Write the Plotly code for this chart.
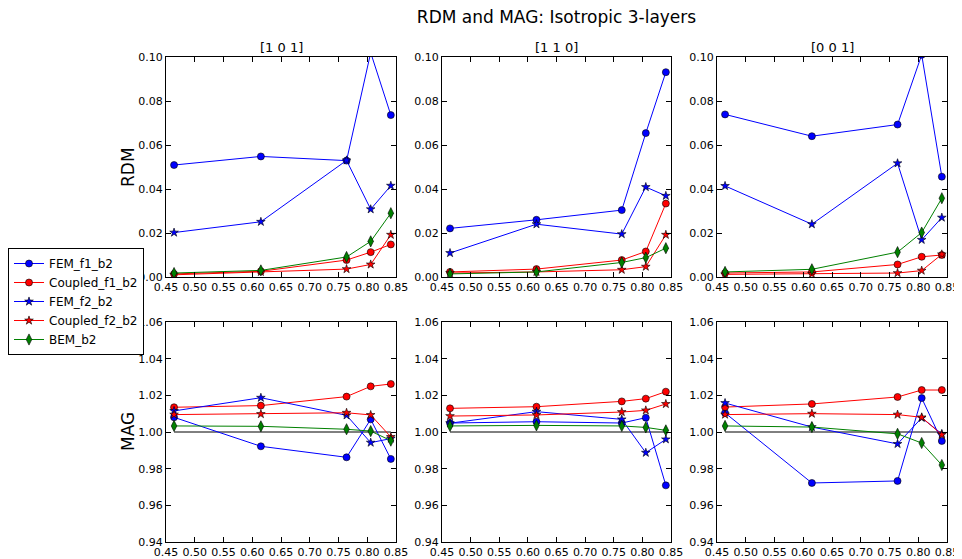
import plotly.graph_objects as go
from plotly.subplots import make_subplots

# ---------------- data ----------------
x_vals = [0.464, 0.615, 0.764, 0.806, 0.841]

panel_titles = ["[1 0 1]", "[1 1 0]", "[0 0 1]"]
series_names = ["FEM_f1_b2", "Coupled_f1_b2", "FEM_f2_b2", "Coupled_f2_b2", "BEM_b2"]

# RDM [1 0 1]
rdm_101_fem_f1 = [0.0509, 0.0548, 0.0529, 0.102, 0.0736]
rdm_101_cpl_f1 = [0.0014, 0.0026, 0.0077, 0.0113, 0.0148]
rdm_101_fem_f2 = [0.0202, 0.0251, 0.0530, 0.0308, 0.0415]
rdm_101_cpl_f2 = [0.0010, 0.0023, 0.0036, 0.0057, 0.0192]
rdm_101_bem = [0.0018, 0.0030, 0.0091, 0.0162, 0.0290]

# RDM [1 1 0]
rdm_110_fem_f1 = [0.0221, 0.0260, 0.0304, 0.0654, 0.0931]
rdm_110_cpl_f1 = [0.0023, 0.0036, 0.0077, 0.0116, 0.0334]
rdm_110_fem_f2 = [0.0109, 0.0240, 0.0195, 0.0409, 0.0369]
rdm_110_cpl_f2 = [0.0018, 0.0023, 0.0033, 0.0047, 0.0192]
rdm_110_bem = [0.0014, 0.0023, 0.0066, 0.0088, 0.0131]

# RDM [0 0 1]
rdm_001_fem_f1 = [0.0739, 0.0640, 0.0693, 0.101, 0.0456]
rdm_001_cpl_f1 = [0.0018, 0.0023, 0.0057, 0.0092, 0.0100]
rdm_001_fem_f2 = [0.0414, 0.0240, 0.0517, 0.0169, 0.0270]
rdm_001_cpl_f2 = [0.0012, 0.0014, 0.0018, 0.0029, 0.0103]
rdm_001_bem = [0.0023, 0.0035, 0.0113, 0.0202, 0.0358]

# MAG [1 0 1]
mag_101_fem_f1 = [1.0080, 0.9922, 0.9862, 1.0069, 0.9853]
mag_101_cpl_f1 = [1.0135, 1.0144, 1.0193, 1.0249, 1.0262]
mag_101_fem_f2 = [1.0115, 1.0187, 1.0091, 0.9942, 0.9964]
mag_101_cpl_f2 = [1.0095, 1.0098, 1.0105, 1.0093, 0.9973]
mag_101_bem = [1.0033, 1.0031, 1.0015, 1.0005, 0.9953]

# MAG [1 1 0]
mag_110_fem_f1 = [1.0049, 1.0056, 1.0049, 1.0078, 0.9709]
mag_110_cpl_f1 = [1.0129, 1.0138, 1.0167, 1.0182, 1.0220]
mag_110_fem_f2 = [1.0048, 1.0111, 1.0069, 0.9887, 0.9960]
mag_110_cpl_f2 = [1.0087, 1.0093, 1.0109, 1.0118, 1.0153]
mag_110_bem = [1.0033, 1.0036, 1.0033, 1.0025, 1.0009]

# MAG [0 0 1]
mag_001_fem_f1 = [1.0104, 0.9722, 0.9733, 1.0185, 0.9951]
mag_001_cpl_f1 = [1.0136, 1.0153, 1.0191, 1.0229, 1.0229]
mag_001_fem_f2 = [1.0158, 1.0027, 0.9935, 1.0077, 0.9990]
mag_001_cpl_f2 = [1.0095, 1.0100, 1.0095, 1.0080, 0.9985]
mag_001_bem = [1.0033, 1.0027, 0.9990, 0.9940, 0.9820]

x_ticks = [0.45, 0.50, 0.55, 0.60, 0.65, 0.70, 0.75, 0.80, 0.85]
rdm_ticks = [0.00, 0.02, 0.04, 0.06, 0.08, 0.10]
mag_ticks = [0.94, 0.96, 0.98, 1.00, 1.02, 1.04, 1.06]

# ---------------- figure ----------------
OFF = 8  # page body margin offset
W, H = 962 - OFF, 559 - OFF
col_px = [(166, 396), (442, 671), (717, 947)]
row_px = [(57, 277), (322, 542)]


def fx(px):
    return (px - OFF) / W


def fy(py):
    return 1 - (py - OFF) / H


fig = make_subplots(rows=2, cols=3)

styles = [
    dict(color="#0000ff", symbol="circle", size=7),
    dict(color="#ff0000", symbol="circle", size=7),
    dict(color="#0000ff", symbol="star", size=6.5),
    dict(color="#ff0000", symbol="star", size=6.5),
    dict(color="#008000", symbol="diamond-tall", size=8),
]

rdm_panels = [
    [rdm_101_fem_f1, rdm_101_cpl_f1, rdm_101_fem_f2, rdm_101_cpl_f2, rdm_101_bem],
    [rdm_110_fem_f1, rdm_110_cpl_f1, rdm_110_fem_f2, rdm_110_cpl_f2, rdm_110_bem],
    [rdm_001_fem_f1, rdm_001_cpl_f1, rdm_001_fem_f2, rdm_001_cpl_f2, rdm_001_bem],
]
mag_panels = [
    [mag_101_fem_f1, mag_101_cpl_f1, mag_101_fem_f2, mag_101_cpl_f2, mag_101_bem],
    [mag_110_fem_f1, mag_110_cpl_f1, mag_110_fem_f2, mag_110_cpl_f2, mag_110_bem],
    [mag_001_fem_f1, mag_001_cpl_f1, mag_001_fem_f2, mag_001_cpl_f2, mag_001_bem],
]

for row, panels in ((1, rdm_panels), (2, mag_panels)):
    for c, series in enumerate(panels):
        col = c + 1
        if row == 2:
            fig.add_trace(go.Scatter(x=[min(x_vals), max(x_vals)], y=[1.0, 1.0], mode="lines",
                                     line=dict(color="black", width=1), showlegend=False,
                                     hoverinfo="skip"), row=row, col=col)
        for i, ys in enumerate(series):
            st = styles[i]
            fig.add_trace(go.Scatter(
                x=x_vals, y=ys, mode="lines+markers", name=series_names[i],
                line=dict(color=st["color"], width=1),
                marker=dict(color=st["color"], symbol=st["symbol"], size=st["size"],
                            line=dict(color="black", width=0.6)),
                showlegend=(row == 1 and col == 1), legendrank=i + 1,
            ), row=row, col=col)

font_family = "DejaVu Sans"
axis_common = dict(showline=True, linecolor="black", linewidth=1, mirror="ticks",
                   ticks="inside", ticklen=5, tickcolor="black", showgrid=False,
                   zeroline=False, automargin=False,
                   tickfont=dict(family=font_family, size=11, color="black"))

for row in (1, 2):
    y0, y1 = row_px[row - 1]
    for col in (1, 2, 3):
        x0, x1 = col_px[col - 1]
        fig.update_xaxes(range=[0.45, 0.85], tickvals=x_ticks, tickformat=".2f",
                         domain=[fx(x0), fx(x1)], row=row, col=col, **axis_common)
        if row == 1:
            fig.update_yaxes(range=[0, 0.1], tickvals=rdm_ticks, tickformat=".2f",
                             domain=[fy(y1), fy(y0)], row=row, col=col, **axis_common)
        else:
            fig.update_yaxes(range=[0.94, 1.06], tickvals=mag_ticks, tickformat=".2f",
                             domain=[fy(y1), fy(y0)], row=row, col=col, **axis_common)

annotations = []
for i, t in enumerate(panel_titles):
    x0, x1 = col_px[i]
    annotations.append(dict(text=t, x=fx((x0 + x1) / 2), y=fy(47), xref="paper", yref="paper",
                            xanchor="center", yanchor="middle", showarrow=False,
                            font=dict(family=font_family, size=13, color="black")))
annotations.append(dict(text="RDM", x=fx(128), y=fy(167), xref="paper", yref="paper",
                        textangle=-90, xanchor="center", yanchor="middle", showarrow=False,
                        font=dict(family=font_family, size=17, color="black")))
annotations.append(dict(text="MAG", x=fx(128), y=fy(432), xref="paper", yref="paper",
                        textangle=-90, xanchor="center", yanchor="middle", showarrow=False,
                        font=dict(family=font_family, size=17, color="black")))

fig.update_layout(
    width=W, height=H,
    margin=dict(l=0, r=0, t=0, b=0, autoexpand=False),
    paper_bgcolor="white", plot_bgcolor="white",
    title=dict(text="RDM and MAG: Isotropic 3-layers", x=fx(556.5), xref="container", xanchor="center",
               y=fy(17), yref="container", yanchor="middle",
               font=dict(family=font_family, size=17, color="black")),
    annotations=annotations,
    showlegend=True,
    legend=dict(x=fx(8), y=fy(248), xref="paper", yref="paper",
                xanchor="left", yanchor="top", bgcolor="white", bordercolor="black",
                borderwidth=1, font=dict(family=font_family, size=12, color="black"),
                tracegroupgap=0, itemwidth=30),
    font=dict(family=font_family),
)

fig.write_html("out.html")
